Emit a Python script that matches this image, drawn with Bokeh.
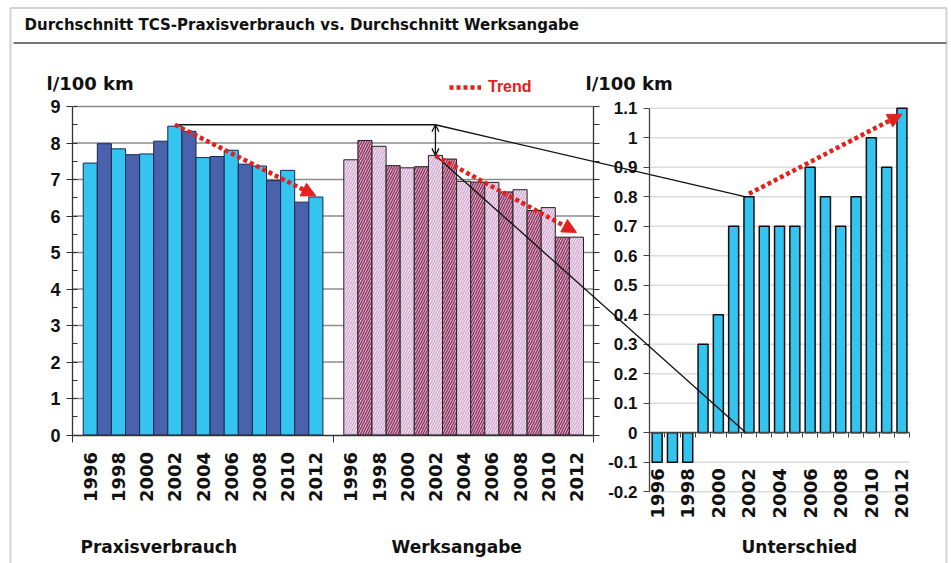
import math
from bokeh.plotting import figure
from bokeh.models import (Range1d, LinearAxis, FixedTicker, NumeralTickFormatter, Arrow,
                          NormalHead, OpenHead, Label, Legend, LegendItem, BoxAnnotation)
from bokeh.embed import file_html
from bokeh.resources import INLINE

# ---------------- data ----------------
years = list(range(1996, 2013))
praxis = [7.45, 7.98, 7.84, 7.68, 7.70, 8.05, 8.46, 8.32, 7.60, 7.63, 7.80, 7.42, 7.37, 6.97, 7.25, 6.38, 6.52]
werks = [7.54, 8.07, 7.91, 7.38, 7.32, 7.35, 7.66, 7.56, 6.95, 6.93, 6.92, 6.66, 6.72, 6.15, 6.23, 5.42, 5.42]
diff = [-0.1, -0.1, -0.1, 0.3, 0.4, 0.7, 0.8, 0.7, 0.7, 0.7, 0.9, 0.8, 0.7, 0.8, 1.0, 0.9, 1.1]
left_ticks = [0, 1, 2, 3, 4, 5, 6, 7, 8, 9]
diff_ticks = [-0.2, -0.1, 0, 0.1, 0.2, 0.3, 0.4, 0.5, 0.6, 0.7, 0.8, 0.9, 1.0, 1.1]
trend_praxis = [8.5, 6.55]   # 2002 -> 2012
trend_werks = [7.65, 5.55]
trend_diff = [0.81, 1.08]
title_text = "Durchschnitt TCS-Praxisverbrauch vs. Durchschnitt Werksangabe"
group_names = ["Praxisverbrauch", "Werksangabe", "Unterschied"]
unit_label = "l/100 km"
legend_label = "Trend"

# ---------------- layout / style (pixel positions) ----------------
W, H = 951, 563
L_AXIS_X, L_RIGHT_X = 72, 593
P_START, W_START, SLOT = 82.7, 343.3, 14.1
R_AXIS_X, R_SLOT, R_BAR = 649, 15.3, 10
PX_L, ZERO_L = 36.5, H - 434.5
PX_D, ZERO_D = 295.0, H - 432.3

l0 = -ZERO_L / PX_L
l1 = (H - ZERO_L) / PX_L
d0 = -ZERO_D / PX_D
d1 = (H - ZERO_D) / PX_D


def yl(page_y):
    return l0 + (H - page_y) / PX_L


def d2l(d):
    return l0 + (d - d0) * PX_D / PX_L


LIGHT = "#33c4f0"
DARK = "#4a62ac"
RED = "#e3201b"
BOLD = "bold"

n = len(years)
i02 = years.index(2002)
i12 = years.index(2012)
p_x = [P_START + SLOT * (i + 0.5) for i in range(n)]
w_x = [W_START + SLOT * (i + 0.5) for i in range(n)]
r_x = [R_AXIS_X + R_SLOT * (i + 0.5) for i in range(n)]
R_RIGHT = R_AXIS_X + R_SLOT * n
even = [y % 2 == 0 for y in years]

p = figure(width=W, height=H, x_range=Range1d(0, W), y_range=Range1d(l0, l1),
           output_backend="svg", toolbar_location=None, x_axis_type=None, y_axis_type=None,
           min_border=0, outline_line_color=None, title=None)
p.extra_y_ranges = {"diff": Range1d(d0, d1)}
p.background_fill_color = "white"
p.border_fill_color = "white"

# gridlines
p.segment(x0=L_AXIS_X, x1=L_RIGHT_X, y0=left_ticks[1:], y1=left_ticks[1:],
          line_color="#8c8c8c", line_width=1.3)
rg = [t for t in diff_ticks if t != 0]
p.segment(x0=R_AXIS_X, x1=R_RIGHT, y0=rg, y1=rg, y_range_name="diff",
          line_color="#dcdcdc", line_width=1.5)

# bars
p.vbar(x=p_x, top=praxis, bottom=0, width=SLOT,
       fill_color=[LIGHT if e else DARK for e in even], line_color="#1d2552", line_width=1)
p.vbar(x=w_x, top=werks, bottom=0, width=SLOT,
       fill_color=["#f0e3f3" if e else "#d6aac6" for e in even],
       hatch_pattern="/", hatch_color=["#d2a6cc" if e else "#8a2d58" for e in even],
       hatch_scale=5, hatch_weight=1.2, line_color="#222222", line_width=1)
p.vbar(x=r_x, top=diff, bottom=0, width=R_BAR, y_range_name="diff",
       fill_color=LIGHT, line_color="#111111", line_width=1.5)

# axes
label_font = "Liberation Sans"
yax = LinearAxis(fixed_location=L_AXIS_X, bounds=(0, 9),
                 ticker=FixedTicker(ticks=left_ticks, minor_ticks=[k / 2 for k in range(19)]),
                 formatter=NumeralTickFormatter(format="0"),
                 major_tick_out=6, major_tick_in=0, minor_tick_in=5, minor_tick_out=0,
                 axis_line_color="#333333", axis_line_width=1.3,
                 major_tick_line_color="#333333", minor_tick_line_color="#333333",
                 major_label_text_font=label_font, major_label_text_font_style=BOLD,
                 major_label_text_font_size="18px", major_label_text_color="#111111",
                 major_label_standoff=6)
p.add_layout(yax, "left")

yax2 = LinearAxis(fixed_location=L_RIGHT_X, bounds=(0, 9),
                  ticker=FixedTicker(ticks=[k / 2 for k in range(19)], minor_ticks=[]),
                  major_tick_out=6, major_tick_in=0, minor_tick_out=0, minor_tick_in=0,
                  axis_line_color="#333333", axis_line_width=1.3,
                  major_tick_line_color="#333333", major_label_text_color=None)
p.add_layout(yax2, "right")

dax = LinearAxis(y_range_name="diff", fixed_location=R_AXIS_X, bounds=(-0.2, 1.1),
                 ticker=FixedTicker(ticks=diff_ticks, minor_ticks=[]),
                 formatter=NumeralTickFormatter(format="0.[0]"),
                 major_tick_out=6, major_tick_in=0,
                 axis_line_color="#444444", axis_line_width=1.3, major_tick_line_color="#444444",
                 major_label_text_font=label_font, major_label_text_font_style=BOLD,
                 major_label_text_font_size="17px", major_label_text_color="#111111",
                 major_label_standoff=6)
p.add_layout(dax, "left")

lx_ticks = [p_x[i] for i in range(n) if even[i]] + [w_x[i] for i in range(n) if even[i]]
lx_over = {}
for i in range(n):
    if even[i]:
        lx_over[p_x[i]] = str(years[i])
        lx_over[w_x[i]] = str(years[i])
mid_gap = (P_START + SLOT * n + W_START) / 2
xax = LinearAxis(fixed_location=0, bounds=(L_AXIS_X, L_RIGHT_X),
                 ticker=FixedTicker(ticks=lx_ticks, minor_ticks=[L_AXIS_X, mid_gap, L_RIGHT_X]),
                 major_label_overrides=lx_over, major_label_orientation=math.pi / 2,
                 major_tick_out=0, major_tick_in=0, minor_tick_out=7, minor_tick_in=0,
                 axis_line_color="#333333", axis_line_width=1.3, minor_tick_line_color="#333333",
                 major_label_text_font="DejaVu Sans", major_label_text_font_style=BOLD,
                 major_label_text_font_size="18px", major_label_text_color="#111111",
                 major_label_standoff=10)
p.add_layout(xax, "below")

rax = LinearAxis(y_range_name="diff", fixed_location=0, bounds=(R_AXIS_X, R_RIGHT),
                 ticker=FixedTicker(ticks=[], minor_ticks=[R_AXIS_X + R_SLOT * i for i in range(n + 1)]),
                 major_tick_out=0, major_tick_in=0, minor_tick_out=5, minor_tick_in=0,
                 axis_line_color="#444444", axis_line_width=1.3, minor_tick_line_color="#444444",
                 major_label_text_color=None)
p.add_layout(rax, "below")

rx_ticks = [r_x[i] for i in range(n) if even[i]]
rx_over = {r_x[i]: str(years[i]) for i in range(n) if even[i]}
rlab = LinearAxis(y_range_name="diff", fixed_location=-0.1,
                  ticker=FixedTicker(ticks=rx_ticks, minor_ticks=[]),
                  major_label_overrides=rx_over, major_label_orientation=math.pi / 2,
                  axis_line_color=None, major_tick_out=0, major_tick_in=0,
                  minor_tick_out=0, minor_tick_in=0,
                  major_label_text_font="DejaVu Sans", major_label_text_font_style=BOLD,
                  major_label_text_font_size="18px", major_label_text_color="#111111",
                  major_label_standoff=6)
p.add_layout(rlab, "below")

# connector lines (black)
blk = dict(line_color="#111111", line_width=1.3, end=None)
p.add_layout(Arrow(x_start=p_x[i02], y_start=trend_praxis[0], x_end=w_x[i02], y_end=trend_praxis[0], **blk))
p.add_layout(Arrow(x_start=w_x[i02], y_start=trend_praxis[0], x_end=r_x[i02] - 3, y_end=d2l(diff[i02]), **blk))
p.add_layout(Arrow(x_start=w_x[i02], y_start=werks[i02], x_end=r_x[i02] - 3, y_end=d2l(0), **blk))
p.add_layout(Arrow(x_start=w_x[i02], y_start=trend_praxis[0], x_end=w_x[i02], y_end=werks[i02],
                   line_color="#111111", line_width=1.3,
                   start=OpenHead(size=7, line_color="#111111", line_width=1.3),
                   end=OpenHead(size=7, line_color="#111111", line_width=1.3)))


# trend arrows (red dotted)
def trend(x0, x1, ys, **kw):
    return Arrow(x_start=x0, y_start=ys[0], x_end=x1, y_end=ys[1], line_color=RED, line_width=4.5,
                 line_dash="4 3",
                 end=NormalHead(size=14, fill_color=RED, line_color=RED, line_width=1), **kw)


p.add_layout(trend(p_x[i02], p_x[i12], trend_praxis))
p.add_layout(trend(w_x[i02], w_x[i12], trend_werks))
p.add_layout(trend(r_x[i02], r_x[i12], trend_diff, y_range_name="diff"))

# legend (sample renderer carries no visible data)
nan = float("nan")
leg_r = p.line(x=[nan, nan], y=[nan, nan], line_color=RED, line_width=4.5, line_dash="4 3")
legend = Legend(items=[LegendItem(label=legend_label, renderers=[leg_r])],
                location=(449, H - 97), padding=0, margin=0, spacing=0,
                glyph_width=32, glyph_height=20, label_height=20, label_standoff=7,
                label_text_font=label_font, label_text_font_style=BOLD,
                label_text_font_size="16px", label_text_color=RED,
                border_line_color=None, background_fill_alpha=0)
p.add_layout(legend, "center")

# texts
txt = dict(text_font="DejaVu Sans", text_font_style=BOLD, text_color="#111111", text_baseline="middle")
p.add_layout(Label(x=24, y=yl(24), text=title_text, text_font_size="15px", **txt))
p.add_layout(Label(x=46, y=yl(83), text=unit_label, text_font_size="18px", **txt))
p.add_layout(Label(x=585, y=yl(83), text=unit_label, text_font_size="18px", **txt))
for name, px_ in zip(group_names, [80, 391, 741]):
    p.add_layout(Label(x=px_, y=yl(546), text=name, text_font_size="17px", **txt))

# frame lines
p.add_layout(BoxAnnotation(left=10, right=946, top=yl(7.5), bottom=yl(700),
                           fill_alpha=0, fill_color=None, line_color="#6a6a6a", line_width=2))
p.add_layout(Arrow(x_start=13, y_start=yl(42.5), x_end=946, y_end=yl(42.5),
                   line_color="#777777", line_width=2, end=None))

open("out.html", "w").write(file_html(p, INLINE))
